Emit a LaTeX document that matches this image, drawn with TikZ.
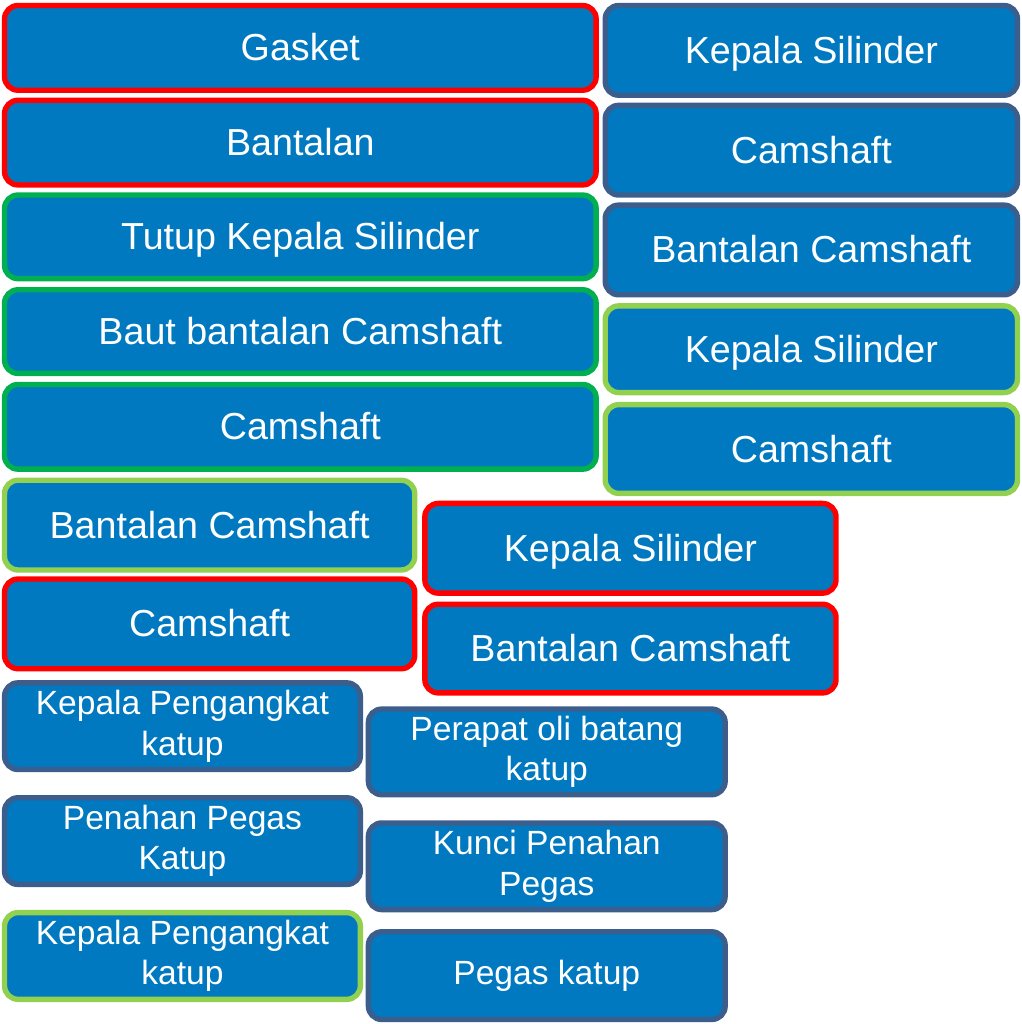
\documentclass[tikz,border=0pt]{standalone}
\usepackage{fontspec}
\setmainfont{Liberation Sans}
\definecolor{boxfill}{HTML}{0079C1}
\definecolor{bred}{HTML}{FF0000}
\definecolor{bgreen}{HTML}{00B050}
\definecolor{blgreen}{HTML}{92D050}
\definecolor{bdark}{HTML}{3B5E8C}
\tikzset{
  box/.style={draw, line width=4pt, fill=boxfill, rounded corners=10pt, text=white, align=center, inner sep=0pt},
  big/.style={box, font=\fontsize{28}{33}\selectfont, text height=25.3pt, text depth=5.9pt},
  small/.style={box, font=\fontsize{25}{30}\selectfont},
  cr/.style={draw=bred}, cg/.style={draw=bgreen}, clg/.style={draw=blgreen}, cd/.style={draw=bdark}
}
\newcommand\bx[7]{\node[#2, minimum width={(#5-#3-5)*0.75pt}, minimum height={(#6-#4-5)*0.75pt}] (#1) at ({(#3+#5)/2},{(#4+#6)/2}) {#7};}
\begin{document}
\begin{tikzpicture}[x=0.75pt,y=-0.75pt]
\useasboundingbox (0,0) rectangle (1014,1016);
% left column
\bx{a1}{big,cr}{2}{3}{594}{92}{Gasket}
\bx{a2}{big,cr}{2}{97}{594}{186}{Bantalan}
\bx{a3}{big,cg}{2}{191}{594}{279}{Tutup Kepala Silinder}
\bx{a4}{big,cg}{2}{285}{594}{373}{Baut bantalan Camshaft}
\bx{a5}{big,cg}{2}{379}{594}{468}{Camshaft}
% right column
\bx{b1}{big,cd}{598}{3}{1012}{97}{Kepala Silinder}
\bx{b2}{big,cd}{598}{102}{1012}{196}{Camshaft}
\bx{b3}{big,cd}{598}{201}{1012}{295}{Bantalan Camshaft}
\bx{b4}{big,clg}{598}{301}{1012}{392}{Kepala Silinder}
\bx{b5}{big,clg}{598}{399}{1012}{492}{Camshaft}
% middle groups
\bx{c1}{big,clg}{2}{474}{414}{568}{Bantalan Camshaft}
\bx{c2}{big,cr}{2}{572}{414}{666}{Camshaft}
\bx{d1}{big,cr}{419}{497}{832}{591}{Kepala Silinder}
\bx{d2}{big,cr}{419}{597}{832}{690}{Bantalan Camshaft}
% bottom groups
\bx{e1}{small,cd}{2}{675}{360}{766}{Kepala Pengangkat\\katup}
\bx{e2}{small,cd}{2}{789}{360}{880}{Penahan Pegas\\Katup}
\bx{e3}{small,clg}{2}{903}{360}{994}{Kepala Pengangkat\\katup}
\bx{f1}{small,cd}{363}{701}{722}{791}{Perapat oli batang\\katup}
\bx{f2}{small,cd}{363}{814}{722}{905}{Kunci Penahan\\Pegas}
\bx{f3}{small,cd}{363}{922}{722}{1014}{Pegas katup}
\end{tikzpicture}
\end{document}
